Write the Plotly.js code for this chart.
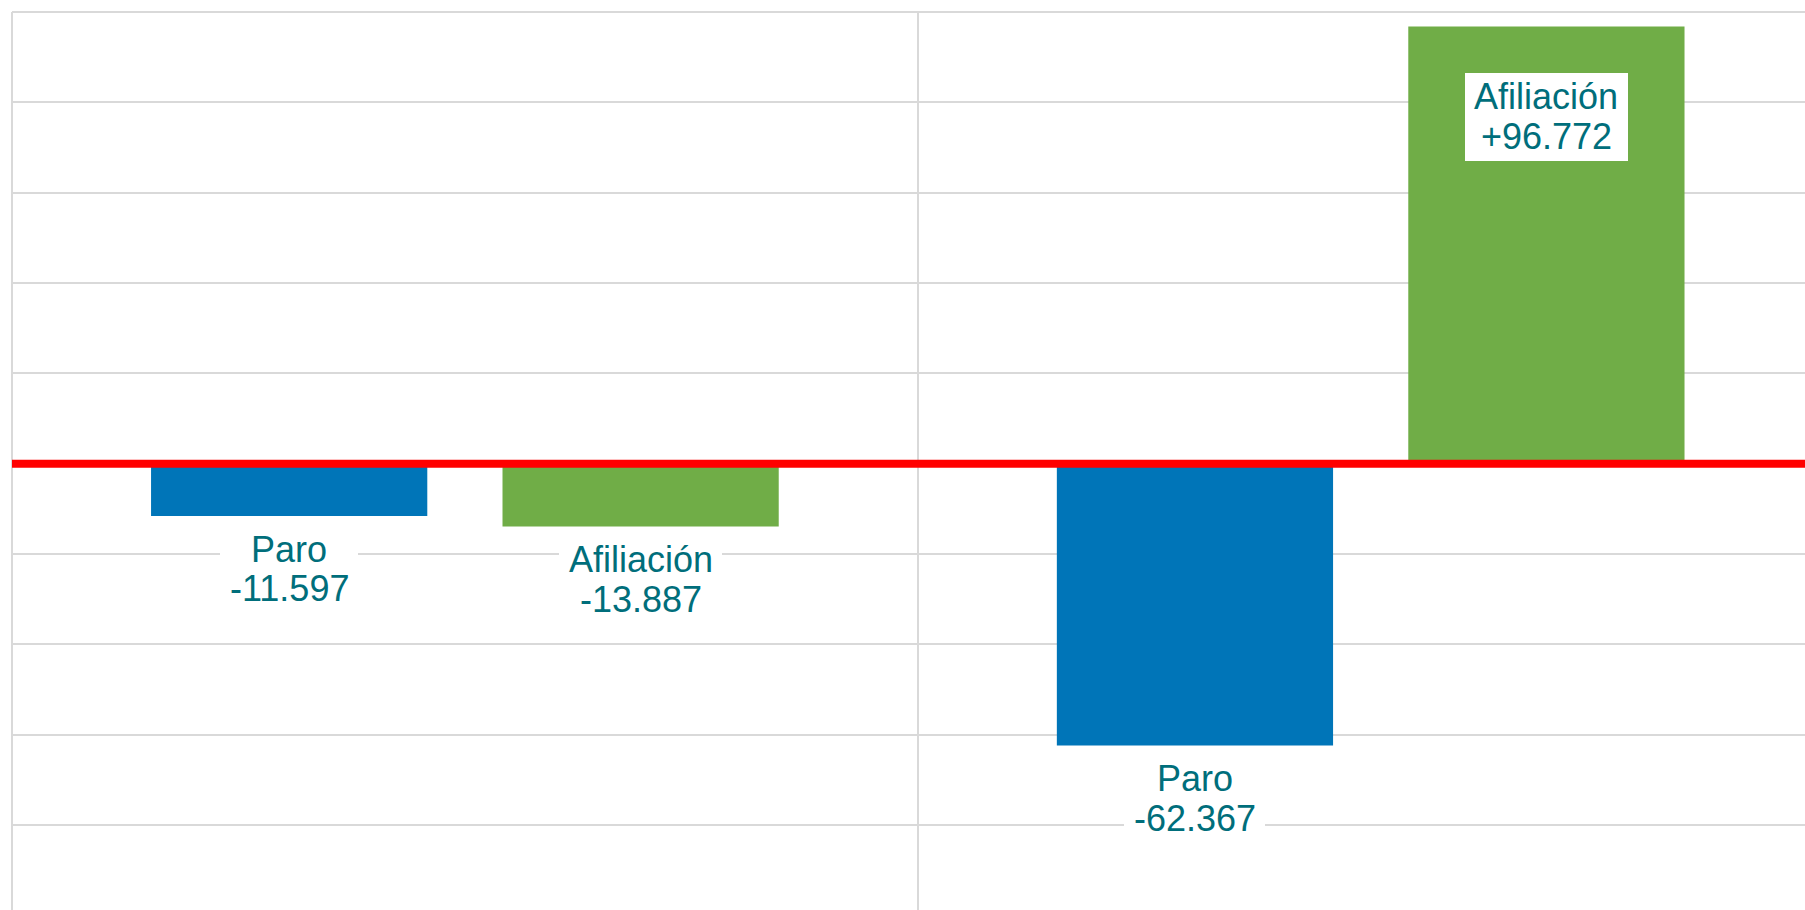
<!DOCTYPE html>
<html>
<head>
<meta charset="utf-8">
<script src="https://cdn.plot.ly/plotly-3.0.1.min.js"></script>
<style>
  html, body { margin: 0; padding: 0; background: #ffffff; }
  #chart { width: 1805px; height: 910px; }
</style>
</head>
<body>
<div id="chart"></div>
<script>
// ---- Data ----
const categories = ['Mes', 'Año'];
const seriesNames = ['Paro', 'Afiliación'];
const paroValues = [-11597, -62367];
const afiliacionValues = [-13887, 96772];
const seriesValues = [paroValues, afiliacionValues];

// ---- Style ----
const barColors = ['#0075B8', '#70AD47'];
const labelColor = '#006E7B';
const gridColor = '#D9D9D9';
const fontFamily = '"Liberation Sans", Arial, Helvetica, sans-serif';
const labelSize = 36;
const bargap = 0.224;
const bargroupgap = 0.214;

function fmt(v) {
  const abs = Math.abs(v).toString().replace(/\B(?=(\d{3})+(?!\d))/g, '.');
  return (v < 0 ? '-' : '+') + abs;
}

const canvas = document.createElement('canvas');
const ctx = canvas.getContext('2d');
ctx.font = labelSize + 'px "Liberation Sans", Arial, sans-serif';
function textW(t) { return ctx.measureText(t).width; }

const traces = seriesNames.map((name, s) => ({
  type: 'bar',
  name: name,
  x: categories,
  y: seriesValues[s],
  marker: { color: barColors[s], line: { width: 0 } },
  hoverinfo: 'none'
}));

const annotations = [];
seriesNames.forEach((name, s) => {
  seriesValues[s].forEach((v, i) => {
    const xpos = i + (s === 0 ? -1 : 1) * (1 - bargap) / 4;
    const valText = fmt(v);
    const line1 = -(v < 0 ? 33.1 : 70.2);
    const line2 = line1 - 39.5;
    const boxW = Math.max(textW(name), textW(valText)) + 19;
    annotations.push({
      x: xpos, y: v, xref: 'x', yref: 'y',
      text: ' ', showarrow: false,
      width: boxW, height: 88.4,
      bgcolor: '#ffffff', borderpad: 0, borderwidth: 0,
      xanchor: 'center', yanchor: 'middle',
      yshift: line1 - 20.3,
      font: { size: 2, color: '#ffffff' }
    });
    [[name, line1], [valText, line2]].forEach(([t, sh]) => {
      annotations.push({
        x: xpos, y: v, xref: 'x', yref: 'y',
        text: t, showarrow: false,
        xanchor: 'center', yanchor: 'middle',
        yshift: sh,
        font: { size: labelSize, color: labelColor, family: fontFamily }
      });
    });
  });
});

const layout = {
  width: 1805,
  height: 910,
  margin: { l: 11.5, r: 0, t: 12.3, b: 0, pad: 0 },
  paper_bgcolor: '#ffffff',
  plot_bgcolor: '#ffffff',
  showlegend: false,
  barmode: 'group',
  bargap: bargap,
  bargroupgap: bargroupgap,
  font: { family: fontFamily },
  xaxis: {
    type: 'category',
    range: [-0.5, 1.4795],
    tickson: 'boundaries',
    showgrid: true,
    gridcolor: gridColor,
    gridwidth: 2,
    showticklabels: false,
    ticks: '',
    zeroline: false,
    showline: false,
    automargin: false,
    fixedrange: true
  },
  yaxis: {
    range: [-98800, 100000],
    tick0: 0,
    dtick: 20000,
    showgrid: true,
    gridcolor: gridColor,
    gridwidth: 2,
    showticklabels: false,
    ticks: '',
    zeroline: false,
    showline: false,
    automargin: false,
    fixedrange: true
  },
  shapes: [
    {
      type: 'line', xref: 'paper', yref: 'paper',
      x0: 0, x1: 0, y0: 0, y1: 1,
      line: { color: gridColor, width: 2 },
      layer: 'below'
    },
    {
      type: 'line', xref: 'paper', yref: 'paper',
      x0: 0, x1: 1, y0: 1, y1: 1,
      line: { color: gridColor, width: 2 },
      layer: 'below'
    },
    {
      type: 'line', xref: 'paper', yref: 'y',
      x0: 0, x1: 1, y0: 0, y1: 0,
      line: { color: '#FF0000', width: 8 },
      layer: 'above'
    }
  ],
  annotations: annotations
};

Plotly.newPlot('chart', traces, layout, { staticPlot: true, displayModeBar: false });
</script>
</body>
</html>
